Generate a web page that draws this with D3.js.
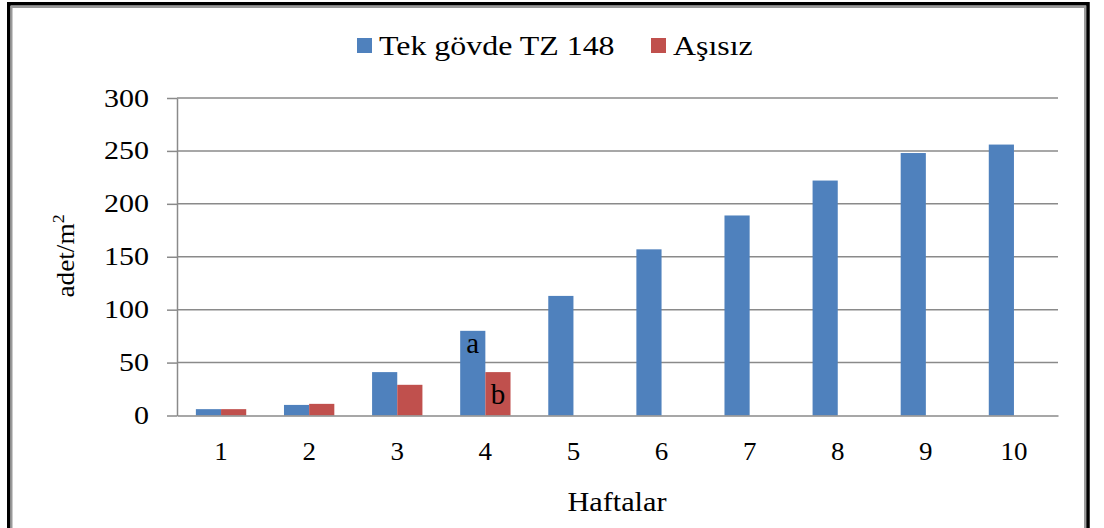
<!DOCTYPE html>
<html lang="tr">
<head>
<meta charset="UTF-8">
<title>Haftalar - adet/m2</title>
<script src="https://d3js.org/d3.v7.min.js"></script>
<style>
  body { margin: 0; background: #fff; }
  svg text { font-family: 'Liberation Serif', 'Times New Roman', serif; fill: #000; }
</style>
</head>
<body>
<svg id="chart" width="1104" height="528"></svg>
<script>
// data
const weeks = ["1", "2", "3", "4", "5", "6", "7", "8", "9", "10"];
const seriesNames = ["Tek gövde TZ 148", "Aşısız"];
const tekGovde = [6, 10, 41, 80, 113, 157, 189, 222, 248, 256];
const asisiz = [6, 11, 29, 41, null, null, null, null, null, null];
const yTicks = [0, 50, 100, 150, 200, 250, 300];
const colors = ["#4F81BD", "#C0504D"];
const notes = [
    { week: "4", series: 0, text: "a", dy: 22 },
    { week: "4", series: 1, text: "b", dy: 32 }
];

const svg = d3.select("#chart");
const plot = { left: 177, right: 1058, top: 98, bottom: 415.5 };

// outer frame
svg.append("rect")
    .attr("x", 8.75).attr("y", 3.75)
    .attr("width", 1079.25).attr("height", 600)
    .attr("fill", "none").attr("stroke", "#000").attr("stroke-width", 3.5);
svg.append("rect")
    .attr("x", 11.5).attr("y", 7)
    .attr("width", 1073.5).attr("height", 600)
    .attr("fill", "none").attr("stroke", "#9a9a9a").attr("stroke-width", 2);

const x = d3.scaleBand()
    .domain(weeks)
    .range([plot.left, plot.right])
    .paddingInner(1.5 / 3.5)
    .paddingOuter(0.75 / 3.5);

const xs = d3.scaleBand()
    .domain(d3.range(seriesNames.length))
    .range([0, x.bandwidth()]);

const y = d3.scaleLinear()
    .domain([0, 300])
    .range([plot.bottom, plot.top]);

// gridlines
svg.append("g")
    .selectAll("line")
    .data(yTicks.filter(d => d > 0))
    .join("line")
    .attr("x1", plot.left).attr("x2", plot.right)
    .attr("y1", d => y(d)).attr("y2", d => y(d))
    .attr("stroke", "#8a8a8a").attr("stroke-width", 1.5);

// bars
const table = weeks.map((w, i) => ({ week: w, values: [tekGovde[i], asisiz[i]] }));
const groups = svg.append("g")
    .selectAll("g")
    .data(table)
    .join("g")
    .attr("transform", d => `translate(${x(d.week)},0)`);

groups.selectAll("rect")
    .data(d => d.values.map((v, s) => ({ v, s })).filter(d => d.v != null))
    .join("rect")
    .attr("x", d => xs(d.s))
    .attr("width", xs.bandwidth())
    .attr("y", d => y(d.v))
    .attr("height", d => y(0) - y(d.v))
    .attr("fill", d => colors[d.s]);

// axes
const yAxis = svg.append("g")
    .attr("transform", `translate(${plot.left},0)`)
    .call(d3.axisLeft(y).tickValues(yTicks).tickSize(10).tickSizeOuter(0));
yAxis.select(".domain").attr("stroke", "#8a8a8a").attr("stroke-width", 1.5);
yAxis.selectAll(".tick line").attr("stroke", "#8a8a8a").attr("stroke-width", 1.5);
yAxis.selectAll(".tick text")
    .attr("x", null).attr("dy", "0.32em")
    .attr("font-size", 25)
    .attr("text-anchor", "end")
    .attr("transform", "translate(-28,0) scale(1.2,1)");

const xAxis = svg.append("g")
    .attr("transform", `translate(0,${plot.bottom})`)
    .call(d3.axisBottom(x).tickSize(0).tickSizeOuter(0));
xAxis.select(".domain").attr("stroke", "#8a8a8a").attr("stroke-width", 1.5);
xAxis.selectAll(".tick text")
    .attr("y", null).attr("dy", null)
    .attr("font-size", 25)
    .attr("text-anchor", "middle")
    .attr("transform", "translate(0,44.5) scale(1.08,1)");

// axis titles
svg.append("text")
    .attr("text-anchor", "middle")
    .attr("font-size", 28)
    .attr("transform", "translate(617,511) scale(1.08,1)")
    .text("Haftalar");

const yTitle = svg.append("text")
    .attr("text-anchor", "middle")
    .attr("font-size", 26)
    .attr("transform", "translate(74,256) rotate(-90) scale(1.05,1)");
yTitle.append("tspan").text("adet/m");
yTitle.append("tspan").attr("font-size", 17).attr("baseline-shift", "super").text("2");

// letters on the week 4 bars
svg.append("g")
    .selectAll("text")
    .data(notes)
    .join("text")
    .attr("text-anchor", "middle")
    .attr("font-size", 29)
    .attr("transform", d => {
        const v = d.series === 0 ? tekGovde[weeks.indexOf(d.week)] : asisiz[weeks.indexOf(d.week)];
        const cx = x(d.week) + xs(d.series) + xs.bandwidth() / 2;
        return `translate(${cx},${y(v) + d.dy})`;
    })
    .text(d => d.text);

// legend
const legendX = [357, 651];
const legend = svg.append("g")
    .selectAll("g")
    .data(seriesNames)
    .join("g")
    .attr("transform", (d, i) => `translate(${legendX[i]},0)`);
legend.append("rect")
    .attr("x", 0).attr("y", 38)
    .attr("width", 15).attr("height", 15)
    .attr("fill", (d, i) => colors[i]);
legend.append("text")
    .attr("font-size", 28)
    .attr("transform", "translate(22,55) scale(1.14,1)")
    .text(d => d);
</script>
</body>
</html>
